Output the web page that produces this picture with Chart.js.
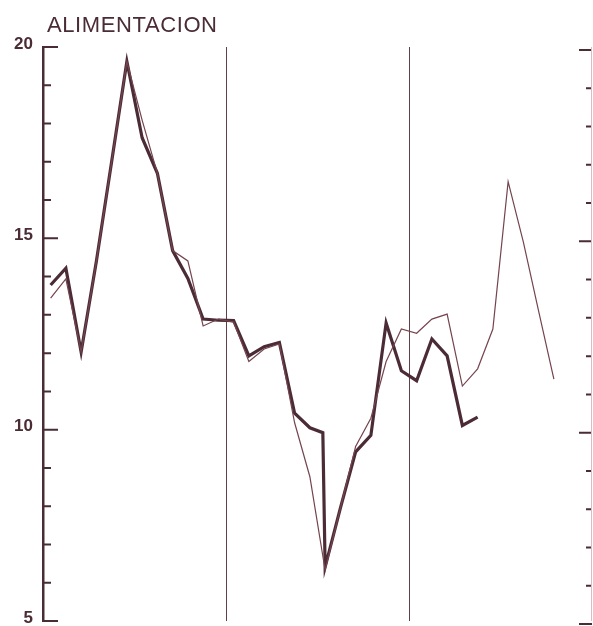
<!DOCTYPE html>
<html>
<head>
<meta charset="utf-8">
<script src="https://cdn.jsdelivr.net/npm/chart.js@4/dist/chart.umd.min.js"></script>
<style>
  body { margin: 0; background: #fff; }
  #contenedor { position: relative; width: 593px; height: 626px; }
  #titulo {
    position: absolute; left: 47px; top: 12px;
    font: 22px "Liberation Sans", Arial, sans-serif;
    color: #4a2c34; letter-spacing: 0.6px;
  }
</style>
</head>
<body>
<div id="contenedor">
  <canvas id="grafico" width="593" height="626"></canvas>
  <div id="titulo">ALIMENTACION</div>
</div>
<script>
// Meses (0 = primer mes del periodo) y valores
const mesesFina = [0, 1, 2, 3, 4, 5, 6, 7, 8, 9, 10, 11, 12, 13, 14, 15, 16, 17,
  18, 19, 20, 21, 22, 23, 24, 25, 26, 27, 28, 29, 30, 31, 32, 33];
const valoresFina = [13.44, 13.94, 12.03, 14.4, 17.0, 19.62, 18.09, 16.7, 14.68, 14.41,
  12.71, 12.89, 12.81, 11.78, 12.11, 12.24, 10.18, 8.77, 6.33, 7.95, 9.56, 10.30,
  11.78, 12.63, 12.52, 12.89, 13.02, 11.14, 11.59, 12.63, 16.48, 14.9, 13.1, 11.32];

const mesesGruesa = [0, 1, 2, 3, 4, 5, 6, 7, 8, 9, 10, 11, 12, 13, 14, 15, 16, 17,
  17.85, 18, 19, 20, 21, 22, 23, 24, 25, 26, 27, 28];
const valoresGruesa = [13.78, 14.22, 12.03, 14.4, 17.0, 19.62, 17.63, 16.7, 14.68, 13.95,
  12.89, 12.86, 12.85, 11.93, 12.17, 12.28, 10.43, 10.05, 9.92, 6.41, 7.95, 9.42, 9.85,
  12.79, 11.54, 11.28, 12.37, 11.93, 10.11, 10.33];

// Separaciones entre años y escala vertical
const separadores = [11.5, 23.5];
const marcasY = [5, 6, 7, 8, 9, 10, 11, 12, 13, 14, 15, 16, 17, 18, 19, 20];

const colorTinta = '#4a2c34';

function puntos(meses, valores) {
  return meses.map((m, i) => ({ x: m, y: valores[i] }));
}

// Líneas de año, marcas hacia dentro y eje derecho
const marcasYEjes = {
  id: 'marcasYEjes',
  beforeDatasetsDraw(chart) {
    const { ctx, chartArea, scales } = chart;
    ctx.save();
    ctx.strokeStyle = '#5e4048';
    ctx.lineWidth = 1;
    separadores.forEach(s => {
      const x = Math.round(scales.x.getPixelForValue(s)) + 0.5;
      ctx.beginPath();
      ctx.moveTo(x, chartArea.top);
      ctx.lineTo(x, chartArea.bottom);
      ctx.stroke();
    });
    ctx.restore();
  },
  afterDatasetsDraw(chart) {
    const { ctx, chartArea, scales } = chart;
    ctx.save();
    ctx.strokeStyle = colorTinta;
    ctx.lineWidth = 2;
    marcasY.forEach(v => {
      const y = scales.y.getPixelForValue(v);
      const mayor = v % 5 === 0;
      ctx.beginPath();
      ctx.moveTo(chartArea.left, y);
      ctx.lineTo(chartArea.left + (mayor ? 15 : 8), y);
      // el eje derecho está algo desplazado hacia abajo en el original
      ctx.moveTo(chartArea.right, y + 3);
      ctx.lineTo(chartArea.right - (mayor ? 13 : 6), y + 3);
      ctx.stroke();
    });
    ctx.strokeStyle = '#d9bcc4';
    ctx.lineWidth = 1;
    ctx.beginPath();
    ctx.moveTo(chartArea.right - 0.5, chartArea.top);
    ctx.lineTo(chartArea.right - 0.5, chartArea.bottom);
    ctx.stroke();
    ctx.restore();
  }
};

const ctx = document.getElementById('grafico').getContext('2d');
const grafico = new Chart(ctx, {
  type: 'line',
  data: {
    datasets: [
      {
        data: puntos(mesesFina, valoresFina),
        borderColor: '#74444e',
        borderWidth: 1.2,
        pointRadius: 0,
        tension: 0,
      },
      {
        data: puntos(mesesGruesa, valoresGruesa),
        borderColor: '#4b2c36',
        borderWidth: 3.2,
        pointRadius: 0,
        tension: 0,
      },
    ],
  },
  options: {
    responsive: false,
    animation: false,
    events: [],
    layout: { padding: { left: 0, right: 1, top: 47, bottom: 5 } },
    plugins: { legend: { display: false }, tooltip: { enabled: false } },
    scales: {
      x: { type: 'linear', min: -0.5, max: 35.5, display: false },
      y: {
        min: 5,
        max: 20,
        afterFit(escala) {
          escala.width = 43;
          escala.paddingTop = 0;
          escala.paddingBottom = 0;
        },
        border: { display: true, color: colorTinta, width: 2.5 },
        grid: { drawOnChartArea: false, drawTicks: false },
        ticks: {
          stepSize: 5,
          padding: 10,
          labelOffset: -3,
          color: colorTinta,
          font: { family: '"Liberation Sans", Arial, sans-serif', size: 17, weight: 'bold' },
        },
      },
    },
  },
  plugins: [marcasYEjes],
});
</script>
</body>
</html>
